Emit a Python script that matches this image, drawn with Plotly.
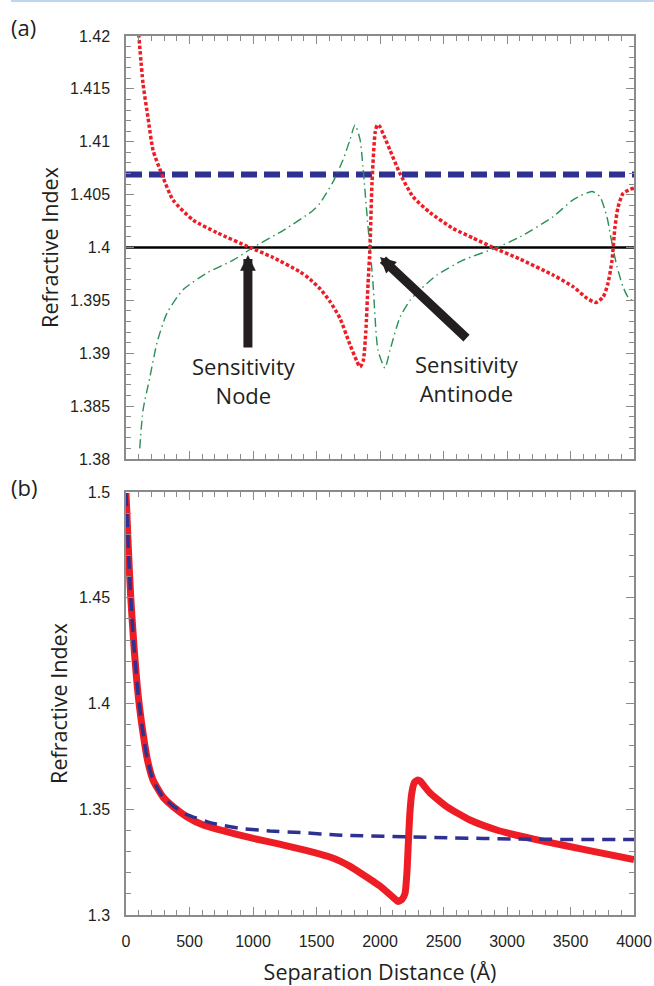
import plotly.graph_objects as go
from plotly.subplots import make_subplots

# ---------------- data ----------------
# Panel (a)
red_a_x = [100, 134, 173, 213, 283, 370, 528, 717, 976, 1150, 1370, 1449, 1528, 1606, 1685, 1764, 1816, 1843,
           1868, 1888, 1906, 1921, 1937, 1961, 1978, 1995, 2030, 2079, 2157, 2260, 2394, 2575, 2732,
           2890, 3102, 3362, 3520, 3630, 3701, 3756, 3795, 3827, 3850, 3874, 3913, 3969, 4000]
red_a_y = [1.4202, 1.4155, 1.4123, 1.4092, 1.4069, 1.4045, 1.4026, 1.4014, 1.4000, 1.3991, 1.3977, 1.3970, 1.3961, 1.3949, 1.3933, 1.3908, 1.3893, 1.3887,
           1.3893, 1.3920, 1.3966, 1.4000, 1.4061, 1.4108, 1.4116, 1.4115, 1.4106, 1.4092, 1.4070, 1.4048, 1.4033, 1.4018, 1.4009,
           1.4000, 1.3989, 1.3974, 1.3963, 1.3952, 1.3948, 1.3953, 1.3966, 1.3988, 1.4019, 1.4038, 1.4051, 1.4055, 1.4056]

green_a_x = [108, 134, 189, 244, 323, 449, 638, 843, 1000, 1236, 1472, 1528, 1630, 1709, 1764, 1803,
             1843, 1866, 1906, 1921, 1945, 1984, 2039, 2079, 2157, 2236, 2315, 2449, 2654, 2921,
             3102, 3362, 3520, 3669, 3732, 3787, 3811, 3835, 3866, 3913, 3953, 3985]
green_a_y = [1.3810, 1.3846, 1.3878, 1.3910, 1.3938, 1.3960, 1.3976, 1.3988, 1.4000, 1.4016, 1.4035, 1.4042, 1.4062, 1.4083, 1.4102, 1.4116,
             1.4102, 1.4076, 1.4019, 1.4000, 1.3966, 1.3903, 1.3886, 1.3903, 1.3934, 1.3950, 1.3960, 1.3974, 1.3988, 1.4000,
             1.4010, 1.4029, 1.4045, 1.4053, 1.4048, 1.4029, 1.4014, 1.3999, 1.3982, 1.3963, 1.3953, 1.3950]

blue_a_x = [0, 4000]
blue_a_y = [1.4069, 1.4069]
black_a_x = [0, 4000]
black_a_y = [1.4, 1.4]

# Panel (b)
blue_b_x = [0, 18, 37, 63, 97, 134, 169, 213, 291, 372, 478, 688, 898, 1134, 1396, 1659, 2394, 3234, 4000]
blue_b_y = [1.4995, 1.4740, 1.4505, 1.4269, 1.4032, 1.3860, 1.3733, 1.3638, 1.3558, 1.3515, 1.3475,
            1.3433, 1.3410, 1.3397, 1.3389, 1.3378, 1.3367, 1.3358, 1.3357]

red_b_x = [0, 18, 37, 63, 97, 134, 169, 213, 291, 372, 478, 609, 740, 1003, 1200, 1400, 1528, 1606, 1685, 1764, 1843,
           2000, 2100, 2144, 2175, 2197, 2212, 2223, 2235, 2250, 2270, 2294, 2315, 2345, 2394, 2525, 2709,
           2919, 3129, 3312, 3630, 4000]
red_b_y = [1.4995, 1.4740, 1.4505, 1.4269, 1.4032, 1.3860, 1.3733, 1.3638, 1.3558, 1.3512, 1.3465,
           1.3425, 1.3402, 1.3362, 1.3336, 1.3308, 1.3288, 1.3274, 1.3255, 1.3230, 1.3200,
           1.3137, 1.3085, 1.3064, 1.3075, 1.3102, 1.3200, 1.3339, 1.3480, 1.3575, 1.3625, 1.3638, 1.3634, 1.3612,
           1.3577, 1.3512, 1.3449, 1.3402, 1.3370, 1.3346, 1.3307, 1.3262]

# ticks
x_ticks = [0, 500, 1000, 1500, 2000, 2500, 3000, 3500, 4000]
x_tick_labels = ["0", "500", "1000", "1500", "2000", "2500", "3000", "3500", "4000"]
ya_ticks = [1.38, 1.385, 1.39, 1.395, 1.4, 1.405, 1.41, 1.415, 1.42]
ya_tick_labels = ["1.38", "1.385", "1.39", "1.395", "1.4", "1.405", "1.41", "1.415", "1.42"]
yb_ticks = [1.3, 1.35, 1.4, 1.45, 1.5]
yb_tick_labels = ["1.3", "1.35", "1.4", "1.45", "1.5"]

# ---------------- figure ----------------
RED = "#ee1d25"
BLUE = "#2e3192"
GREEN = "#2a9055"
TXT = "#231f20"
AX = "#8a8a8a"

fig = make_subplots(rows=2, cols=1, vertical_spacing=0)

fig.add_trace(go.Scatter(x=black_a_x, y=black_a_y, mode="lines",
                         line=dict(color="black", width=2.5)), row=1, col=1)
fig.add_trace(go.Scatter(x=blue_a_x, y=blue_a_y, mode="lines",
                         line=dict(color=BLUE, width=6, dash="16px,7px")), row=1, col=1)
fig.add_trace(go.Scatter(x=green_a_x, y=green_a_y, mode="lines",
                         line=dict(color=GREEN, width=1.4, dash="9px,4px,1.5px,4px",
                                   shape="spline", smoothing=0.6)), row=1, col=1)
fig.add_trace(go.Scatter(x=red_a_x, y=red_a_y, mode="lines",
                         line=dict(color=RED, width=3.5, dash="3.5px,2.2px",
                                   shape="spline", smoothing=0.6)), row=1, col=1)

fig.add_trace(go.Scatter(x=red_b_x, y=red_b_y, mode="lines",
                         line=dict(color=RED, width=7, shape="spline", smoothing=0.5)), row=2, col=1)
fig.add_trace(go.Scatter(x=blue_b_x, y=blue_b_y, mode="lines",
                         line=dict(color=BLUE, width=3.5, dash="13px,8px",
                                   shape="spline", smoothing=0.5)), row=2, col=1)

tickfont = dict(family="Liberation Sans, Arial, sans-serif", size=16, color=TXT)
titlefont = dict(family="Open Sans, sans-serif", size=21.5, color=TXT)

common_axis = dict(showgrid=False, zeroline=False, showline=True, linecolor=AX, linewidth=1.5,
                   ticks="inside", mirror="ticks", ticklen=8, tickwidth=1.2, tickcolor=AX,
                   tickfont=tickfont, automargin=False)

fig.update_xaxes(range=[0, 4000], tickmode="array", tickvals=x_ticks, ticktext=x_tick_labels,
                 minor=dict(tickmode="linear", tick0=0, dtick=100, ticklen=5, tickwidth=1, tickcolor=AX,
                            ticks="inside"),
                 ticklabeloverflow="allow",
                 **common_axis)
fig.update_xaxes(showticklabels=False, row=1, col=1)
fig.update_xaxes(showticklabels=True, ticklabelstandoff=11,
                 title=dict(text="Separation Distance (Å)", font=titlefont, standoff=18), row=2, col=1)

fig.update_yaxes(**common_axis)
fig.update_yaxes(range=[1.38, 1.42], tickmode="array", tickvals=ya_ticks, ticktext=ya_tick_labels,
                 minor=dict(tickmode="linear", tick0=1.38, dtick=0.001, ticklen=5, tickwidth=1,
                            tickcolor=AX, ticks="inside"),
                 ticklabelstandoff=11,
                 title=dict(text="Refractive Index", font=titlefont, standoff=5),
                 domain=[1 - 423 / 879, 1], row=1, col=1)
fig.update_yaxes(range=[1.3, 1.5], tickmode="array", tickvals=yb_ticks, ticktext=yb_tick_labels,
                 minor=dict(tickmode="linear", tick0=1.3, dtick=0.01, ticklen=5, tickwidth=1,
                            tickcolor=AX, ticks="inside"),
                 ticklabelstandoff=11,
                 title=dict(text="Refractive Index", font=titlefont, standoff=5),
                 domain=[0, 423 / 879], row=2, col=1)

annfont = dict(family="Open Sans, sans-serif", size=22, color=TXT)
annotations = [
    dict(text="(a)", xref="paper", yref="paper", x=-0.2008, y=(915 - 27) / 879, showarrow=False,
         font=annfont, xanchor="center", yanchor="middle"),
    dict(text="(b)", xref="paper", yref="paper", x=-0.2008, y=(915 - 487) / 879, showarrow=False,
         font=annfont, xanchor="center", yanchor="middle"),
    dict(text="Sensitivity<br>Node", xref="x", yref="y", x=929, y=1.3874, showarrow=False,
         font=annfont, xanchor="center", yanchor="middle"),
    dict(text="Sensitivity<br>Antinode", xref="x", yref="y", x=2685, y=1.3876, showarrow=False,
         font=annfont, xanchor="center", yanchor="middle"),
    dict(text="", xref="x", yref="y", x=960, y=1.3993, axref="x", ayref="y", ax=960, ay=1.3904,
         showarrow=True, arrowhead=2, arrowsize=0.35, arrowwidth=9, arrowcolor=TXT),
    dict(text="", xref="x", yref="y", x=2000, y=1.3991, axref="x", ayref="y", ax=2693, ay=1.3913,
         showarrow=True, arrowhead=2, arrowsize=0.35, arrowwidth=9, arrowcolor=TXT),
]

fig.update_layout(
    width=654, height=986,
    margin=dict(l=126, r=20, t=36, b=71, autoexpand=False),
    plot_bgcolor="white", paper_bgcolor="white",
    showlegend=False,
    annotations=annotations,
    shapes=[dict(type="line", xref="paper", yref="paper", x0=(11 - 126) / 508, x1=(654 - 126) / 508,
                 y0=(915 - 1) / 879, y1=(915 - 1) / 879, line=dict(color="#a9c9e8", width=1.5))],
)

# remove the page's default body margin so the 654x986 figure fills the window exactly
fig.write_html("out.html", config={"displayModeBar": False},
               post_script="document.body.style.margin='0px';")
